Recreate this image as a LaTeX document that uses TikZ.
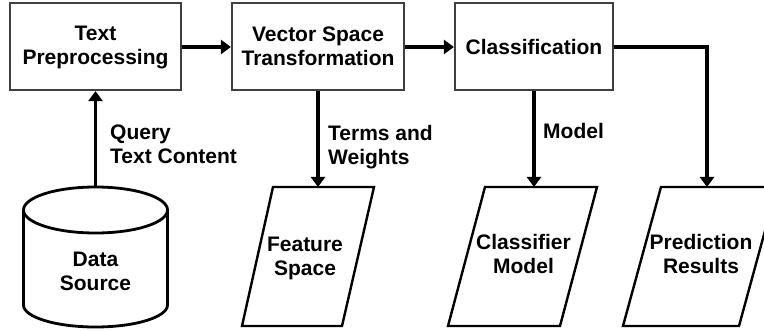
\documentclass[tikz,border=0pt]{standalone}
\usepackage{fontspec}
\setmainfont{Liberation Sans}
\usetikzlibrary{arrows.meta}
\definecolor{boxgray}{RGB}{64,64,64}
\tikzset{
  procbox/.style={draw=boxgray, line width=2.2pt, fill=white, inner sep=0pt,
    align=center, font=\bfseries\fontsize{21}{24}\selectfont},
  lbl/.style={inner sep=0pt, align=left, anchor=north west,
    font=\bfseries\fontsize{21}{24}\selectfont},
  intext/.style={inner sep=0pt, align=center,
    font=\bfseries\fontsize{21}{24}\selectfont},
  flow/.style={line width=3.2pt, -{Triangle[length=10pt,width=14pt]}},
  dataedge/.style={draw=black, line width=2.4pt, line join=miter},
  cyledge/.style={draw=black, line width=2.8pt}
}
\begin{document}
\begin{tikzpicture}[x=1pt,y=1pt]
\clip (0,0) rectangle (764,330);
\fill[white] (0,0) rectangle (764,330);
% process boxes
\node[procbox, minimum width=171pt, minimum height=87pt] (pre) at (95.5,283.5) {};
\node[intext] (pretxt) at (95.5,282) {Text\\Preprocessing};
\node[procbox, minimum width=172pt, minimum height=87pt] (vec) at (318,283.5) {Vector Space\\Transformation};
\node[procbox, minimum width=158pt, minimum height=87pt] (cls) at (534,283.5) {Classification};
% data source cylinder
\draw[cyledge, fill=white] (23.5,120) -- (23.5,25) arc[start angle=180, end angle=360, x radius=72pt, y radius=22pt] -- (167.5,120);
\draw[cyledge] (95.5,120) ellipse[x radius=72pt, y radius=23pt];
\coordinate (dstop) at (95.5,143);
\node[intext] (ds) at (95.5,58.5) {Data\\Source};
% parallelograms
\draw[dataedge] (273,143) -- (374,143) -- (342,4) -- (242,4) -- cycle;
\coordinate (fstop) at (318,143);
\node[intext] (fs) at (305,72) {Feature\\Space};
\draw[dataedge] (485,143) -- (597,143) -- (560,4) -- (448,4) -- cycle;
\coordinate (cmtop) at (534,143);
\node[intext] (cm) at (523.5,76) {Classifier\\Model};
\draw[dataedge] (661,143) -- (777,143) -- (739,4) -- (623,4) -- cycle;
\coordinate (prtop) at (707,143);
\coordinate (bend) at (707,283);
\node[intext] (pr) at (701,76) {Prediction\\Results};
% connectors
\draw[flow] (pre.east |- 0,283) -- (vec.west |- 0,283);
\draw[flow] (vec.east |- 0,283) -- (cls.west |- 0,283);
\draw[flow] (cls.east |- bend) -- (bend) -- (prtop);
\draw[flow] (dstop) -- (pre.south);
\draw[flow] (vec.south) -- (fstop);
\draw[flow] (cls.south) -- (cmtop);
% labels
\node[lbl] (q) at (110,205) {Query\\Text Content};
\node[lbl] (tw) at (328,205) {Terms and\\Weights};
\node[lbl] (md) at (543,207) {Model};
\end{tikzpicture}
\end{document}
